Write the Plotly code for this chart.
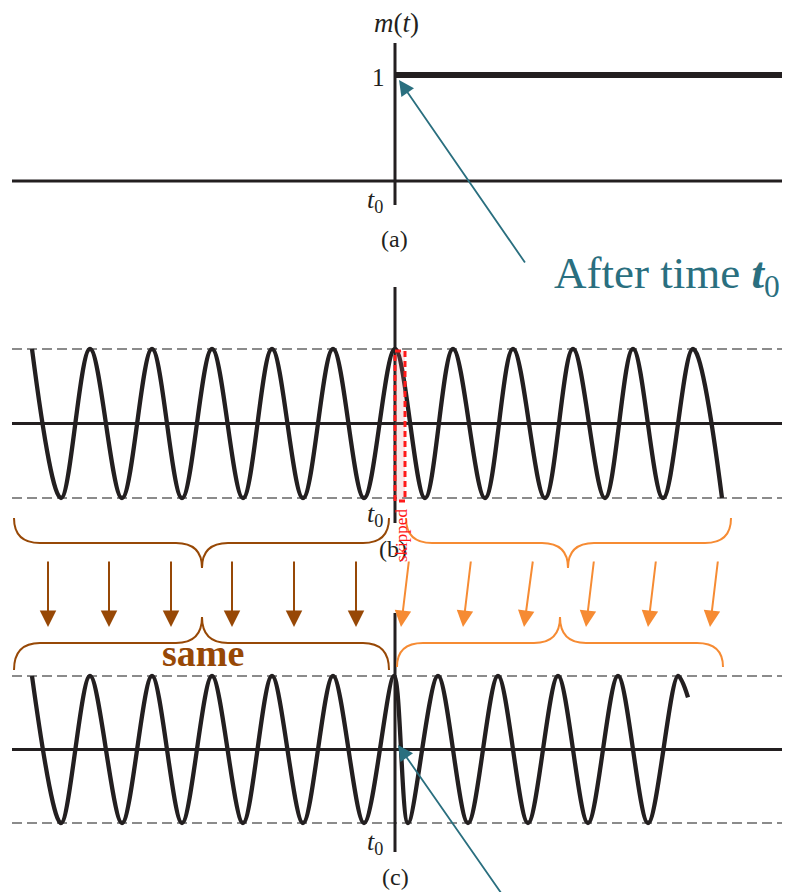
import plotly.graph_objects as go

# ---------------- data (pixel units) ----------------
# carrier (b): extrema positions along x and their level (+1 peak, -1 trough)
b_ext_x = [32, 61, 90, 122, 152, 182, 212, 243, 272, 303, 333, 364, 395,
           425, 453, 485, 513, 545, 573, 605, 633, 663, 693, 722]
b_ext_lv = [1, -1, 1, -1, 1, -1, 1, -1, 1, -1, 1, -1, 1,
            -1, 1, -1, 1, -1, 1, -1, 1, -1, 1, -1]
# modulated wave (c): same as (b) before t0, phase-jumped after
c_ext_x = [32, 61, 90, 122, 152, 182, 212, 243, 272, 303, 333, 364, 394,
           408, 438, 468, 498, 528, 558, 588, 618, 648, 678, 688]
c_ext_lv = [1, -1, 1, -1, 1, -1, 1, -1, 1, -1, 1, -1, 1,
            -1, 1, -1, 1, -1, 1, -1, 1, -1, 1, 0.71]
# step message m(t): 0 before t0, 1 after
m_x = [395, 782]
m_lv = [1, 1]

brown_arrow_x = [48, 109, 171, 232, 294, 356]
orange_tail_x = [409, 471, 533, 594, 656, 718]
orange_tip_x = [401, 463, 524, 586, 648, 710]

# ---------------- layout constants ----------------
W, H = 787, 892
INK = "#231f20"
BROWN = "#974806"
ORANGE = "#F68B33"
TEAL = "#2A6F7F"
SERIF = "Liberation Serif"

A_ZERO, A_ONE = 181, 75
B_MID, B_AMP = 423.5, 74.5
C_MID, C_AMP = 749.5, 73.5
T0 = 395

fig = go.Figure()

# waves
fig.add_trace(go.Scatter(x=b_ext_x, y=[B_MID - B_AMP * v for v in b_ext_lv],
                         mode="lines", line=dict(color=INK, width=4.3, shape="spline", smoothing=1),
                         hoverinfo="skip"))
fig.add_trace(go.Scatter(x=c_ext_x, y=[C_MID - C_AMP * v for v in c_ext_lv],
                         mode="lines", line=dict(color=INK, width=4.3, shape="spline", smoothing=0.9),
                         hoverinfo="skip"))
fig.add_trace(go.Scatter(x=m_x, y=[A_ZERO - (A_ZERO - A_ONE) * v for v in m_lv],
                         mode="lines", line=dict(color=INK, width=6), hoverinfo="skip"))

shapes = []
def line(x0, y0, x1, y1, color=INK, width=3, dash="solid"):
    shapes.append(dict(type="line", x0=x0, y0=y0, x1=x1, y1=y1, xref="x", yref="y",
                       line=dict(color=color, width=width, dash=dash), layer="below"))

# panel (a) axes
line(12, A_ZERO, 782, A_ZERO)
line(T0, 43, T0, 205)
# panel (b)
line(12, B_MID - B_AMP, 782, B_MID - B_AMP, color="#666", width=1.5, dash="10px,5px")
line(12, B_MID + B_AMP, 782, B_MID + B_AMP, color="#666", width=1.5, dash="10px,5px")
line(12, B_MID, 782, B_MID)
line(T0, 287, T0, 523)
# panel (c)
line(12, C_MID - C_AMP, 782, C_MID - C_AMP, color="#666", width=1.5, dash="10px,5px")
line(12, C_MID + C_AMP, 782, C_MID + C_AMP, color="#666", width=1.5, dash="10px,5px")
line(12, C_MID, 782, C_MID)
line(T0, 613, T0, 852)

# skipped rectangle
shapes.append(dict(type="rect", x0=395, x1=405, y0=351, y1=501, xref="x", yref="y",
                   fillcolor="rgba(230,120,130,0.18)",
                   line=dict(color="#ff1a1a", width=3, dash="6px,4px"), layer="above"))

def brace(xl, xc, xr, y_end, y_flat, y_tip, r, color):
    p = (f"M {xl},{y_end} Q {xl},{y_flat} {xl + r},{y_flat} "
         f"L {xc - r},{y_flat} Q {xc},{y_flat} {xc},{y_tip} "
         f"Q {xc},{y_flat} {xc + r},{y_flat} L {xr - r},{y_flat} "
         f"Q {xr},{y_flat} {xr},{y_end}")
    shapes.append(dict(type="path", path=p, xref="x", yref="y",
                       line=dict(color=color, width=2)))

brace(14, 202, 389, 518, 543, 568, 26, BROWN)
brace(14, 202, 389, 670, 643, 617, 26, BROWN)
brace(406, 568, 731, 518, 543, 568, 26, ORANGE)
brace(397, 560, 723, 667, 643, 617, 26, ORANGE)

annotations = []
def text(x, y, t, size, color=INK, **kw):
    d = dict(x=x, y=y, xref="x", yref="y", text=t, showarrow=False,
             font=dict(family=SERIF, size=size, color=color),
             xanchor="center", yanchor="middle")
    d.update(kw)
    annotations.append(d)

def arrow(x0, y0, x1, y1, color, width, size):
    annotations.append(dict(x=x1, y=y1, ax=x0, ay=y0, xref="x", yref="y",
                            axref="x", ayref="y", text="", showarrow=True,
                            arrowhead=2, arrowsize=size, arrowwidth=width,
                            arrowcolor=color, standoff=0))

for x in brown_arrow_x:
    arrow(x, 560, x, 627, BROWN, 2, 1.65)
for xt, xh in zip(orange_tail_x, orange_tip_x):
    arrow(xt, 560, xh, 627, ORANGE, 2, 1.65)

arrow(526, 264, 399, 80, TEAL, 1.8, 1.7)
arrow(506, 900, 398, 745, TEAL, 1.8, 1.7)

text(396, 23, "<i>m</i>(<i>t</i>)", 27)
text(378, 77, "1", 25)
text(375, 201, "<i>t</i><sub>0</sub>", 26)
text(394, 239, "(a)", 24)
text(375, 515, "<i>t</i><sub>0</sub>", 26)
text(393, 549, "(b)", 24)
text(375, 843, "<i>t</i><sub>0</sub>", 26)
text(395, 877, "(c)", 24)
text(203, 653, "<b>same</b>", 38, color=BROWN)
text(401, 536, "skipped", 17, color="#ff1a1a", textangle=-90)
text(552, 276, "After time <b><i>t</i></b><sub>0</sub>", 45, color=TEAL, xanchor="left")

fig.update_layout(
    width=W, height=H, margin=dict(l=0, r=0, t=0, b=0),
    paper_bgcolor="white", plot_bgcolor="white", showlegend=False,
    xaxis=dict(range=[0, W], visible=False, fixedrange=True),
    yaxis=dict(range=[H, 0], visible=False, fixedrange=True),
    shapes=shapes, annotations=annotations,
)
fig.write_html("out.html")
